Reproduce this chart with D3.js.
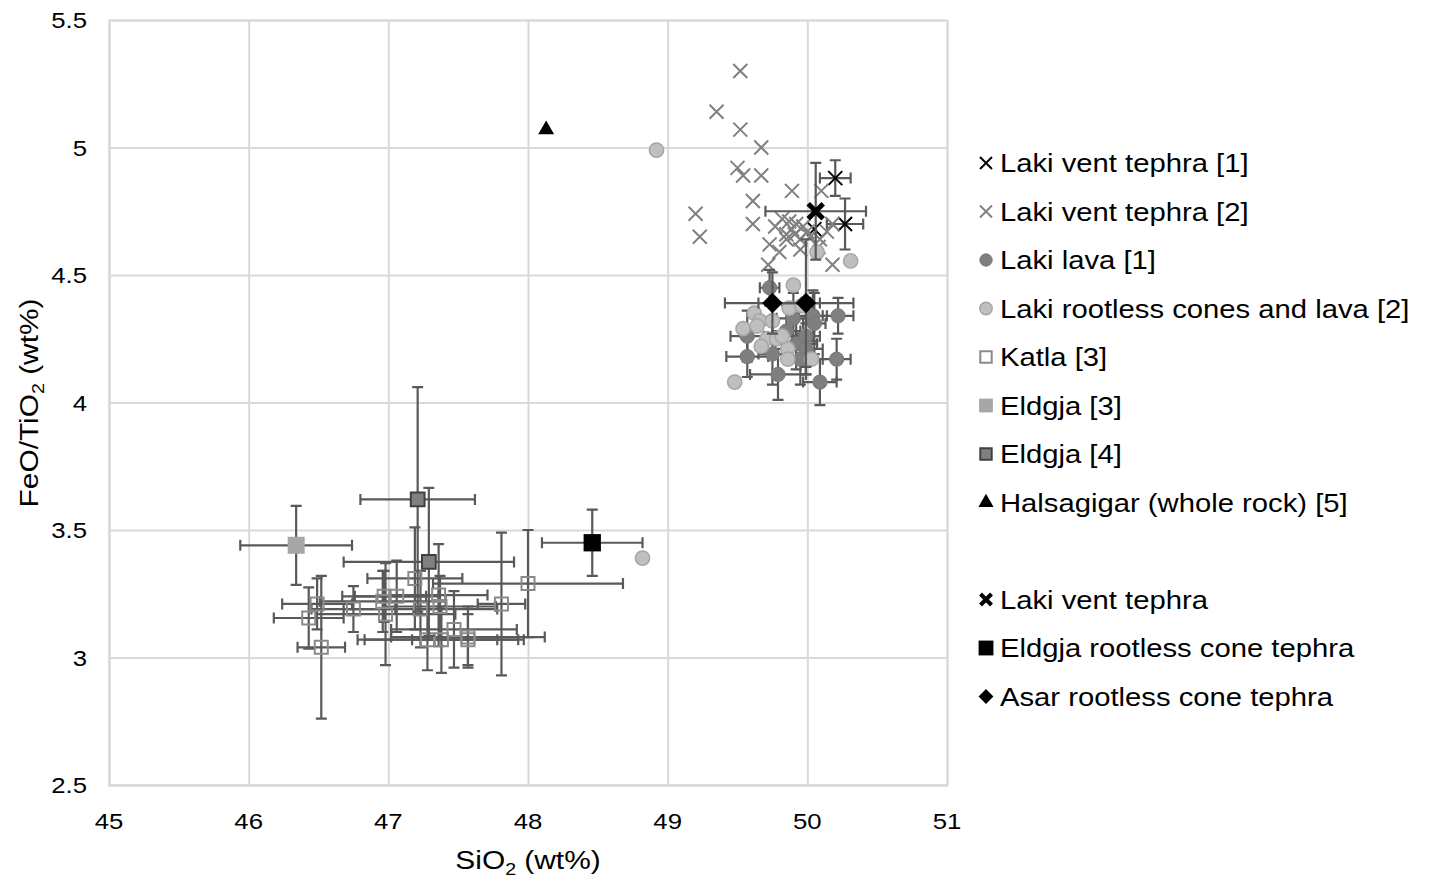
<!DOCTYPE html>
<html>
<head>
<meta charset="utf-8">
<script src="https://cdn.jsdelivr.net/npm/d3@7"></script>
<style>
body { margin: 0; background: #fff; }
text { font-family: "Liberation Sans", Arial, sans-serif; }
</style>
</head>
<body>
<script>
var width = 1429,
    height = 879;

var xTicks = [45, 46, 47, 48, 49, 50, 51];
var yTicks = [2.5, 3, 3.5, 4, 4.5, 5, 5.5];

// [SiO2, FeO/TiO2, xErr, yErr]
var lakiVent1 = [[50.20, 4.88, 0.11, 0.07], [50.27, 4.70, 0.13, 0.10], [50.05, 4.68, 0, 0]];
var lakiVent2 = [[49.52, 5.30], [49.35, 5.14], [49.52, 5.07], [49.67, 5.00], [49.50, 4.92], [49.54, 4.89],
    [49.67, 4.89], [49.61, 4.79], [49.20, 4.74], [49.23, 4.65], [49.61, 4.70], [49.89, 4.83], [50.10, 4.83],
    [49.77, 4.69], [49.82, 4.72], [49.87, 4.71], [49.92, 4.70], [49.97, 4.69], [50.00, 4.67], [49.91, 4.66],
    [49.85, 4.64], [49.95, 4.64], [50.02, 4.65], [50.09, 4.64], [50.14, 4.67], [50.18, 4.70], [49.80, 4.59],
    [49.95, 4.60], [50.08, 4.61], [50.18, 4.54], [49.72, 4.54], [49.85, 4.66], [49.89, 4.68], [49.73, 4.62]];
var lakiLava1 = [[49.73, 4.45, 0.07, 0.07], [50.22, 4.34, 0.11, 0.07], [49.57, 4.18, 0.15, 0.08],
    [49.79, 4.11, 0.20, 0.10], [50.21, 4.17, 0.10, 0.08], [50.09, 4.08, 0.12, 0.09], [50.04, 4.34, 0.10, 0.10],
    [50.05, 4.31, 0.08, 0.12], [49.92, 4.23, 0.15, 0.10], [49.99, 4.21, 0.12, 0.10], [49.85, 4.28, 0.10, 0.10],
    [49.75, 4.19, 0.10, 0.12], [49.95, 4.17, 0.10, 0.10], [49.57, 4.26, 0.12, 0.10], [49.90, 4.33, 0.12, 0.10],
    [49.99, 4.26, 0.10, 0.15]];
var lakiRootless2 = [[48.92, 4.99], [48.82, 3.39], [50.31, 4.555], [50.07, 4.59], [49.48, 4.08], [49.90, 4.46],
    [49.87, 4.37], [49.96, 4.38], [49.62, 4.35], [49.66, 4.32], [49.75, 4.32], [49.54, 4.29], [49.71, 4.25],
    [49.78, 4.25], [49.67, 4.22], [49.86, 4.21], [49.86, 4.17], [50.03, 4.17], [49.64, 4.30], [49.82, 4.26]];
var katla3 = [[47.19, 3.31, 0.34, 0.20], [48.00, 3.29, 0.68, 0.21], [47.81, 3.21, 0.17, 0.28],
    [46.49, 3.21, 0.25, 0.10], [46.43, 3.155, 0.25, 0.12], [46.52, 3.04, 0.17, 0.28], [46.75, 3.19, 0.30, 0.09],
    [46.96, 3.22, 0.45, 0.12], [46.97, 3.24, 0.30, 0.10], [47.06, 3.24, 0.30, 0.14], [46.98, 3.17, 0.50, 0.20],
    [47.23, 3.19, 0.55, 0.15], [47.36, 3.245, 0.35, 0.20], [47.37, 3.20, 0.40, 0.12], [47.28, 3.07, 0.50, 0.12],
    [47.38, 3.07, 0.55, 0.13], [47.47, 3.11, 0.45, 0.15], [47.57, 3.08, 0.55, 0.12], [47.57, 3.07, 0.40, 0.10]];
var eldgja3 = [[46.34, 3.44, 0.40, 0.155]];
var eldgja4 = [[47.21, 3.62, 0.41, 0.44], [47.29, 3.375, 0.61, 0.29]];
var halsagigar5 = [[48.13, 5.07]];
var lakiVent = [[50.06, 4.75, 0.36, 0.19]];
var eldgjaRootless = [[48.46, 3.45, 0.36, 0.13]];
var asarRootless = [[49.75, 4.39, 0.34, 0.12], [49.99, 4.39, 0.34, 0.25]];

var svg = d3.select("body").append("svg")
    .attr("width", width)
    .attr("height", height);

var x = d3.scaleLinear().domain([45, 51]).range([109, 947]);
var y = d3.scaleLinear().domain([2.5, 5.5]).range([785, 20]);

// grid
svg.append("g").attr("transform", "translate(0,785)")
    .call(d3.axisBottom(x).tickValues(xTicks).tickSize(-765).tickFormat(""))
    .call(function (g) {
        g.select(".domain").attr("stroke", "#d9d9d9").attr("stroke-width", 2);
        g.selectAll("line").attr("stroke", "#d9d9d9").attr("stroke-width", 2);
    });
svg.append("g").attr("transform", "translate(109,0)")
    .call(d3.axisLeft(y).tickValues(yTicks).tickSize(-838).tickFormat(""))
    .call(function (g) {
        g.select(".domain").attr("stroke", "#d9d9d9").attr("stroke-width", 2);
        g.selectAll("line").attr("stroke", "#d9d9d9").attr("stroke-width", 2);
    });

function label(px, py, size, anchor, rot, stretch) {
    return svg.append("text")
        .attr("transform", "translate(" + px + "," + py + ")" + (rot ? " rotate(" + rot + ")" : "") + " scale(" + stretch + ",1)")
        .attr("text-anchor", anchor)
        .attr("font-size", size)
        .attr("fill", "#000");
}

xTicks.forEach(function (d) {
    label(x(d), 829, 23, "middle", 0, 1.12).text(d);
});
yTicks.forEach(function (d) {
    label(87, y(d) + 8, 23, "end", 0, 1.12).text(d);
});

var xt = label(528, 869, 26, "middle", 0, 1.15);
xt.append("tspan").text("SiO");
xt.append("tspan").attr("font-size", 17).attr("dy", 6).text("2");
xt.append("tspan").attr("dy", -6).text(" (wt%)");

var yt = label(38, 403, 26, "middle", -90, 1.15);
yt.append("tspan").text("FeO/TiO");
yt.append("tspan").attr("font-size", 17).attr("dy", 6).text("2");
yt.append("tspan").attr("dy", -6).text(" (wt%)");

function xPath(h) {
    return "M" + (-h) + "," + (-h) + "L" + h + "," + h + "M" + (-h) + "," + h + "L" + h + "," + (-h);
}

var styles = {
    vent1: { path: xPath(7), fill: "none", stroke: "#000", sw: 2, lpath: xPath(6) },
    vent2: { path: xPath(7), fill: "none", stroke: "#808080", sw: 2, lpath: xPath(6) },
    lava1: { path: d3.symbol(d3.symbolCircle, 160)(), fill: "#7f7f7f", stroke: "#767676", sw: 1, lpath: d3.symbol(d3.symbolCircle, 120)() },
    root2: { path: d3.symbol(d3.symbolCircle, 160)(), fill: "#bfbfbf", stroke: "#a6a6a6", sw: 1.5, lpath: d3.symbol(d3.symbolCircle, 120)() },
    katla: { path: d3.symbol(d3.symbolSquare, 170)(), fill: "none", stroke: "#8a8a8a", sw: 2, lpath: d3.symbol(d3.symbolSquare, 130)() },
    eld3: { path: d3.symbol(d3.symbolSquare, 290)(), fill: "#a6a6a6", stroke: "none", sw: 0, lpath: d3.symbol(d3.symbolSquare, 190)() },
    eld4: { path: d3.symbol(d3.symbolSquare, 190)(), fill: "#808080", stroke: "#404040", sw: 2, lpath: d3.symbol(d3.symbolSquare, 130)() },
    hals: { path: d3.symbol(d3.symbolTriangle, 110)(), fill: "#000", stroke: "none", sw: 0, lpath: d3.symbol(d3.symbolTriangle, 100)() },
    vent: { path: xPath(7.5), fill: "none", stroke: "#000", sw: 5, lpath: xPath(5.5) },
    eldR: { path: d3.symbol(d3.symbolSquare, 300)(), fill: "#000", stroke: "none", sw: 0, lpath: d3.symbol(d3.symbolSquare, 220)() },
    asar: { path: d3.symbol(d3.symbolSquare, 210)(), fill: "#000", stroke: "none", sw: 0, rot: 45, lpath: d3.symbol(d3.symbolSquare, 110)() }
};

function drawSeries(data, st) {
    var g = svg.append("g");
    var cap = 5.5;
    data.forEach(function (d) {
        var cx = x(d[0]), cy = y(d[1]);
        if (d[2]) {
            var x0 = x(d[0] - d[2]), x1 = x(d[0] + d[2]);
            g.append("path")
                .attr("d", "M" + x0 + "," + cy + "H" + x1 + "M" + x0 + "," + (cy - cap) + "V" + (cy + cap) + "M" + x1 + "," + (cy - cap) + "V" + (cy + cap))
                .attr("stroke", "#595959").attr("stroke-width", 2.2).attr("fill", "none");
        }
        if (d[3]) {
            var y0 = y(d[1] - d[3]), y1 = y(d[1] + d[3]);
            g.append("path")
                .attr("d", "M" + cx + "," + y0 + "V" + y1 + "M" + (cx - cap) + "," + y0 + "H" + (cx + cap) + "M" + (cx - cap) + "," + y1 + "H" + (cx + cap))
                .attr("stroke", "#595959").attr("stroke-width", 2.2).attr("fill", "none");
        }
    });
    g.selectAll("path.m").data(data).enter().append("path")
        .attr("class", "m")
        .attr("d", st.path)
        .attr("transform", function (d) { return "translate(" + x(d[0]) + "," + y(d[1]) + ")" + (st.rot ? " rotate(" + st.rot + ")" : ""); })
        .attr("fill", st.fill)
        .attr("stroke", st.stroke)
        .attr("stroke-width", st.sw);
}

drawSeries(lakiVent1, styles.vent1);
drawSeries(lakiVent2, styles.vent2);
drawSeries(lakiLava1, styles.lava1);
drawSeries(lakiRootless2, styles.root2);
drawSeries(katla3, styles.katla);
drawSeries(eldgja3, styles.eld3);
drawSeries(eldgja4, styles.eld4);
drawSeries(halsagigar5, styles.hals);
drawSeries(lakiVent, styles.vent);
drawSeries(eldgjaRootless, styles.eldR);
drawSeries(asarRootless, styles.asar);

// legend
var legendNames = ["Laki vent tephra [1]", "Laki vent tephra [2]", "Laki lava [1]", "Laki rootless cones and lava [2]",
    "Katla [3]", "Eldgja [3]", "Eldgja [4]", "Halsagigar (whole rock) [5]",
    "Laki vent tephra", "Eldgja rootless cone tephra", "Asar rootless cone tephra"];
var legendKeys = ["vent1", "vent2", "lava1", "root2", "katla", "eld3", "eld4", "hals", "vent", "eldR", "asar"];
var legendRows = [0, 1, 2, 3, 4, 5, 6, 7, 9, 10, 11];

legendNames.forEach(function (name, i) {
    var st = styles[legendKeys[i]];
    var ly = 163 + legendRows[i] * 48.5;
    svg.append("path")
        .attr("d", st.lpath)
        .attr("transform", "translate(986," + ly + ")" + (st.rot ? " rotate(" + st.rot + ")" : ""))
        .attr("fill", st.fill)
        .attr("stroke", st.stroke)
        .attr("stroke-width", st.sw === 5 ? 4 : st.sw);
    label(1000, ly + 9, 25, "start", 0, 1.17).text(name);
});
</script>
</body>
</html>
